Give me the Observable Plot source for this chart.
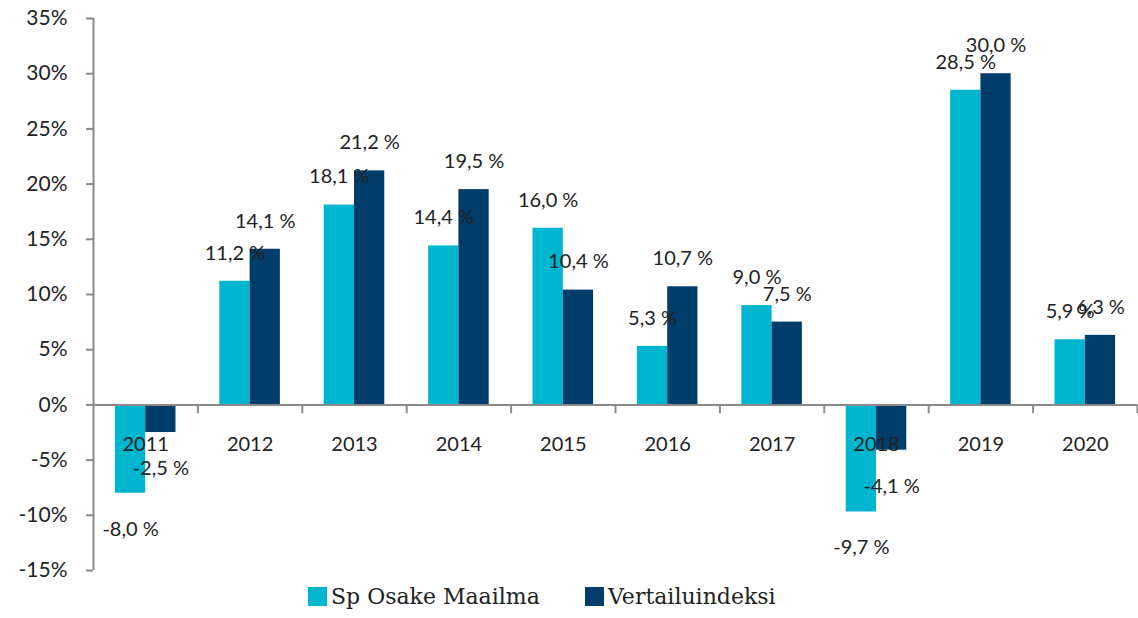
<!DOCTYPE html>
<html>
<head>
<meta charset="utf-8">
<script src="https://cdn.jsdelivr.net/npm/d3@7"></script>
<script src="https://cdn.jsdelivr.net/npm/@observablehq/plot@0.6"></script>
<style>
  html, body { margin: 0; padding: 0; background: #fff; }
  #chart { width: 1138px; }
  #legend { position: relative; height: 38px; font-family: "DejaVu Serif", serif; font-size: 22px; color: #222; }
  .item { position: absolute; top: 4px; display: flex; align-items: center; }
  .sw { width: 19px; height: 19px; margin-right: 4px; }
</style>
</head>
<body>
<div id="chart"></div>
<div id="legend"></div>
<script>
const years = [2011, 2012, 2013, 2014, 2015, 2016, 2017, 2018, 2019, 2020];
const spOsake = [-8.0, 11.2, 18.1, 14.4, 16.0, 5.3, 9.0, -9.7, 28.5, 5.9];
const vertailu = [-2.5, 14.1, 21.2, 19.5, 10.4, 10.7, 7.5, -4.1, 30.0, 6.3];
const seriesNames = ["Sp Osake Maailma", "Vertailuindeksi"];
const colors = ["#00B5CF", "#003D6A"];
const yTicks = [-15, -10, -5, 0, 5, 10, 15, 20, 25, 30, 35];

const half = 0.29;
const rows = [];
years.forEach((y, i) => {
  rows.push({year: y, series: seriesNames[0], value: spOsake[i], x1: y - half, x2: y});
  rows.push({year: y, series: seriesNames[1], value: vertailu[i], x1: y, x2: y + half});
});
const boundaries = years.map(y => y + 0.5);
const fmt = v => v.toFixed(1).replace(".", ",") + " %";
const pos = rows.filter(d => d.value >= 0);
const neg = rows.filter(d => d.value < 0);

const chart = Plot.plot({
  width: 1138,
  height: 580,
  marginTop: 18,
  marginBottom: 10,
  marginLeft: 93,
  marginRight: 1,
  style: {fontFamily: "Lato, sans-serif", fontSize: "20px", color: "#222", background: "#fff"},
  x: {domain: [2010.5, 2020.5], axis: null},
  y: {domain: [-15, 35], axis: null},
  color: {domain: seriesNames, range: colors},
  marks: [
    Plot.rectY(rows, {x1: "x1", x2: "x2", y1: 0, y2: "value", fill: "series"}),
    Plot.ruleY([0], {stroke: "#8a8a8a", strokeWidth: 2}),
    Plot.ruleX(boundaries, {x: d => d, y1: 0, y2: -0.8, stroke: "#8a8a8a", strokeWidth: 2}),
    Plot.ruleX([2010.5], {y1: -15, y2: 35, stroke: "#8a8a8a", strokeWidth: 2}),
    Plot.axisY({ticks: yTicks, label: null, tickFormat: d => d + "%", tickSize: 7, tickPadding: 19, stroke: "#8a8a8a", strokeWidth: 2, fontSize: 21, fill: "#222"}),
    Plot.text(years, {x: d => d, y: 0, dy: 40, text: d => String(d), fill: "#222", fontSize: 20}),
    Plot.text(pos, {x: d => (d.x1 + d.x2) / 2, y: "value", text: d => fmt(d.value), dy: -28, fill: "#222", fontSize: 20}),
    Plot.text(neg, {x: d => (d.x1 + d.x2) / 2, y: "value", text: d => fmt(d.value), dy: 36, fill: "#222", fontSize: 20})
  ]
});
document.getElementById("chart").appendChild(chart);

const legend = document.getElementById("legend");
const lefts = [308, 585];
seriesNames.forEach((n, i) => {
  const it = document.createElement("div");
  it.className = "item";
  it.style.left = lefts[i] + "px";
  it.innerHTML = `<div class="sw" style="background:${colors[i]}"></div><span>${n}</span>`;
  legend.appendChild(it);
});
</script>
</body>
</html>
